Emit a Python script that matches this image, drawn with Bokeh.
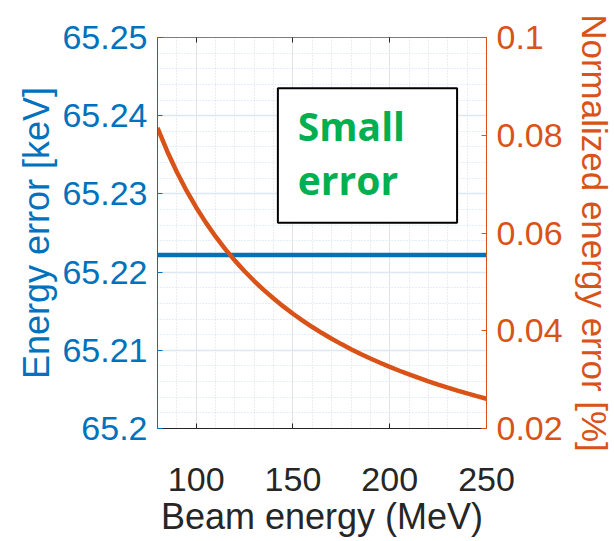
from bokeh.plotting import figure
from bokeh.models import (Range1d, LinearAxis, FixedTicker, CustomJSTickFormatter,
                          Label, BoxAnnotation)
from bokeh.embed import file_html
from bokeh.resources import INLINE

# ---- data ----
beam_energy_mev = [80, 85, 90, 95, 100, 105, 110, 115, 120, 125, 130, 135,
                   140, 145, 150, 155, 160, 165, 170, 175, 180, 185, 190, 195,
                   200, 205, 210, 215, 220, 225, 230, 235, 240, 245, 250]
energy_error_kev = [65.2222] * 35
normalized_error_pct = [0.08153, 0.07673, 0.07247, 0.06866, 0.06522, 0.06212,
                        0.05929, 0.05671, 0.05435, 0.05218, 0.05017, 0.04831,
                        0.04659, 0.04498, 0.04348, 0.04208, 0.04076, 0.03953,
                        0.03837, 0.03727, 0.03623, 0.03526, 0.03433, 0.03345,
                        0.03261, 0.03182, 0.03106, 0.03034, 0.02965, 0.02899,
                        0.02836, 0.02775, 0.02718, 0.02662, 0.02609]
x_ticks = [100, 150, 200, 250]
x_minor = [80, 90, 100, 110, 120, 130, 140, 150, 160, 170, 180, 190, 200,
           210, 220, 230, 240, 250]
left_ticks = [65.2, 65.21, 65.22, 65.23, 65.24, 65.25]
left_minor = [65.200, 65.202, 65.204, 65.206, 65.208, 65.210, 65.212, 65.214,
              65.216, 65.218, 65.220, 65.222, 65.224, 65.226, 65.228, 65.230,
              65.232, 65.234, 65.236, 65.238, 65.240, 65.242, 65.244, 65.246,
              65.248, 65.250]
right_ticks = [0.02, 0.04, 0.06, 0.08, 0.1]
annotation_text = ["Small", "error"]
annotation_box = dict(left=142.2, right=234.8, bottom=65.2263, top=65.2435)
annotation_pos = dict(x=152.5, y1=65.2388, y2=65.2318)

BLUE = "#0072BD"
ORANGE = "#D95319"
DARK = "#262626"
FONT = "Liberation Sans"
TICK_SIZE = "34px"
LABEL_SIZE = "36px"

p = figure(width=614, height=541, output_backend="svg", toolbar_location=None,
           x_range=Range1d(80, 250), y_range=Range1d(65.2, 65.25),
           frame_width=329, frame_height=391,
           min_border_left=157, min_border_right=128,
           min_border_top=37, min_border_bottom=113)
p.background_fill_color = "white"
p.border_fill_color = "white"
p.outline_line_color = None
p.extra_y_ranges = {"right": Range1d(0.02, 0.1)}

num_fmt = "return parseFloat(tick.toFixed(4)).toString();"


def style_axis(ax, color, label, label_color, tick_color):
    ax.axis_label = label
    ax.axis_label_text_font = FONT
    ax.axis_label_text_font_style = "normal"
    ax.axis_label_text_font_size = LABEL_SIZE
    ax.axis_label_text_color = label_color
    ax.major_label_text_font = FONT
    ax.major_label_text_font_size = TICK_SIZE
    ax.major_label_text_color = tick_color
    ax.axis_line_color = color
    ax.major_tick_line_color = color
    ax.major_tick_in = 5
    ax.major_tick_out = 0
    ax.minor_tick_in = 0
    ax.minor_tick_out = 0


# bottom axis
xa = p.xaxis[0]
xa.ticker = FixedTicker(ticks=x_ticks, minor_ticks=x_minor)
style_axis(xa, DARK, "Beam energy (MeV)", DARK, DARK)
xa.major_label_standoff = 39
xa.axis_label_standoff = 2

# left axis
ya = p.yaxis[0]
ya.ticker = FixedTicker(ticks=left_ticks, minor_ticks=left_minor)
ya.formatter = CustomJSTickFormatter(code=num_fmt)
style_axis(ya, BLUE, "Energy error [keV]", BLUE, BLUE)
ya.major_label_standoff = 10
ya.axis_label_standoff = 2

# right axis
ra = LinearAxis(y_range_name="right", ticker=FixedTicker(ticks=right_ticks),
                formatter=CustomJSTickFormatter(code=num_fmt))
style_axis(ra, ORANGE, "Normalized energy error [%]", ORANGE, ORANGE)
ra.axis_label_text_font_size = "35px"
ra.major_label_standoff = 10
ra.axis_label_standoff = 9
p.add_layout(ra, "right")

# top border axis (ticks only)
ta = LinearAxis(ticker=FixedTicker(ticks=x_ticks),
                formatter=CustomJSTickFormatter(code="return '';"),
                major_label_standoff=0)
ta.axis_line_color = DARK
ta.axis_line_alpha = 0.6
ta.major_tick_line_color = DARK
ta.major_tick_in = 5
ta.major_tick_out = 0
ta.minor_tick_in = 0
ta.minor_tick_out = 0
p.add_layout(ta, "above")

# grids
p.xgrid.grid_line_color = "#E3E3E3"
p.xgrid.grid_line_width = 1
p.xgrid.minor_grid_line_color = "#DADADA"
p.xgrid.minor_grid_line_dash = "1 2"
p.ygrid.grid_line_color = "#DCE8F4"
p.ygrid.grid_line_width = 1.5
p.ygrid.minor_grid_line_color = "#CCDDEE"
p.ygrid.minor_grid_line_dash = "1 2"

# lines
p.line(beam_energy_mev, energy_error_kev, line_color=BLUE, line_width=4.5)
p.line(beam_energy_mev, normalized_error_pct, line_color=ORANGE, line_width=4.5,
       y_range_name="right")

# annotation box
p.add_layout(BoxAnnotation(left=annotation_box["left"], right=annotation_box["right"],
                           bottom=annotation_box["bottom"], top=annotation_box["top"],
                           fill_color="white", fill_alpha=1.0,
                           line_color="black", line_width=2, line_alpha=1.0))
for txt, yy in zip(annotation_text, [annotation_pos["y1"], annotation_pos["y2"]]):
    p.add_layout(Label(x=annotation_pos["x"], y=yy, text=txt,
                       text_font="Open Sans", text_font_style="bold",
                       text_font_size="39px", text_color="#00B050",
                       text_baseline="alphabetic", text_align="left"))

open("out.html", "w").write(file_html(p, INLINE))
